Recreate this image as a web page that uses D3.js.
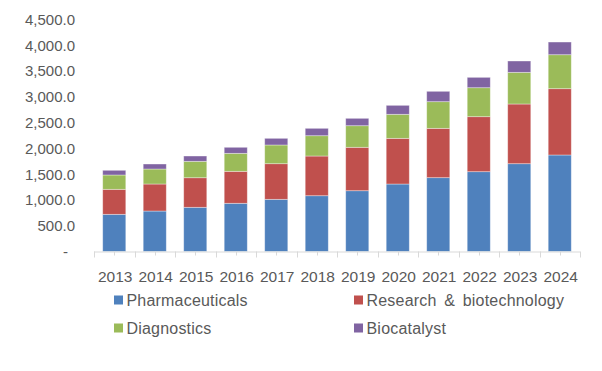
<!DOCTYPE html>
<html>
<head>
<meta charset="utf-8">
<script src="https://cdn.jsdelivr.net/npm/d3@7/dist/d3.min.js"></script>
<style>
  html, body { margin: 0; padding: 0; background: #fff; }
  svg { display: block; }
  text { font-family: Arial, "Liberation Sans", sans-serif; fill: #595959; }
</style>
</head>
<body>
<svg id="chart" width="602" height="371"></svg>
<script>
const years = ["2013","2014","2015","2016","2017","2018","2019","2020","2021","2022","2023","2024"];
const seriesNames = ["Pharmaceuticals", "Research & biotechnology", "Diagnostics", "Biocatalyst"];
const pharmaceuticals = [721, 785, 857, 935, 1012, 1082, 1179, 1309, 1432, 1548, 1703, 1872];
const research = [485, 524, 574, 620, 691, 770, 842, 886, 957, 1067, 1158, 1286];
const diagnostics = [278, 291, 318, 349, 363, 394, 419, 466, 517, 562, 614, 659];
const biocatalyst = [91, 97, 103, 117, 129, 143, 143, 174, 201, 201, 220, 246];
const yTicks = [0, 500, 1000, 1500, 2000, 2500, 3000, 3500, 4000, 4500];
const colors = ["#4f81bd", "#c0504d", "#9bbb59", "#8064a2"];

const svg = d3.select("#chart");
const plotLeft = 94, plotRight = 580, plotTop = 19.5, plotBottom = 251.5;

const rows = years.map((yr, i) => ({
  year: yr,
  "Pharmaceuticals": pharmaceuticals[i],
  "Research & biotechnology": research[i],
  "Diagnostics": diagnostics[i],
  "Biocatalyst": biocatalyst[i]
}));
const stacked = d3.stack().keys(seriesNames)(rows);

const x = d3.scaleBand().domain(years).range([plotLeft, plotRight]).paddingInner(0.43).paddingOuter(0.215);
const xb = d3.scaleBand().domain(years).range([plotLeft, plotRight]);
const y = d3.scaleLinear().domain([0, 4500]).range([plotBottom, plotTop]);

// Y labels
const fmt = d3.format(",.1f");
svg.append("g").selectAll("text").data(yTicks).join("text")
  .attr("x", d => d === 0 ? 68 : 75)
  .attr("y", d => y(d))
  .attr("dy", "0.36em")
  .attr("text-anchor", "end")
  .style("font-size", "15px")
  .text(d => d === 0 ? "-" : fmt(d));

// bars
svg.append("g").selectAll("g").data(stacked).join("g")
  .attr("fill", (d, i) => colors[i])
  .selectAll("rect").data(d => d).join("rect")
  .attr("x", d => x(d.data.year))
  .attr("width", x.bandwidth())
  .attr("y", d => y(d[1]))
  .attr("height", d => y(d[0]) - y(d[1]))
  .attr("stroke", "rgba(255,255,255,0.45)")
  .attr("stroke-width", 0.8);

// x axis line and ticks
const ax = svg.append("g");
ax.append("line").attr("x1", plotLeft).attr("x2", plotRight).attr("y1", plotBottom + 0.5).attr("y2", plotBottom + 0.5)
  .attr("stroke", "#d9d9d9");
const boundaries = years.map(d => xb(d)).concat([plotRight]);
ax.selectAll("line.maj").data(boundaries).join("line").attr("class", "maj")
  .attr("x1", d => Math.round(d) + 0.5).attr("x2", d => Math.round(d) + 0.5)
  .attr("y1", plotBottom).attr("y2", plotBottom + 6).attr("stroke", "#d9d9d9");
ax.selectAll("line.min").data(years).join("line").attr("class", "min")
  .attr("x1", d => Math.round(xb(d) + xb.bandwidth() / 2) + 0.5)
  .attr("x2", d => Math.round(xb(d) + xb.bandwidth() / 2) + 0.5)
  .attr("y1", plotBottom).attr("y2", plotBottom + 4).attr("stroke", "#d9d9d9");

// X labels
svg.append("g").selectAll("text").data(years).join("text")
  .attr("x", d => xb(d) + xb.bandwidth() / 2 + 1)
  .attr("y", 281.5)
  .attr("text-anchor", "middle")
  .style("font-size", "15.5px")
  .text(d => d);

// Legend
const legendPos = [[114, 300], [354, 300], [114, 328], [354, 328]];
const lg = svg.append("g").selectAll("g").data(seriesNames).join("g")
  .attr("transform", (d, i) => `translate(${legendPos[i][0]},${legendPos[i][1]})`);
lg.append("rect").attr("x", 0).attr("y", -4.5).attr("width", 9).attr("height", 9)
  .attr("fill", (d, i) => colors[i]);
lg.append("text").attr("x", 12.5).attr("y", 0).attr("dy", "0.36em")
  .style("font-size", "16px").style("letter-spacing", "0.2px").style("word-spacing", "3px")
  .text(d => d);
</script>
</body>
</html>
